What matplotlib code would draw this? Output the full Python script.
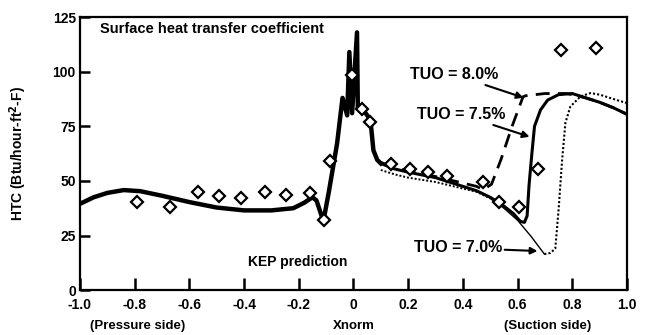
import numpy as np
import matplotlib
matplotlib.use("Agg")
import matplotlib.pyplot as plt

plt.rcParams['font.family'] = ['Liberation Sans', 'DejaVu Sans']
plt.rcParams['font.weight'] = 'bold'

# measured HTC (diamonds)
x_exp = [-0.79, -0.67, -0.57, -0.49, -0.41, -0.325, -0.245, -0.16, -0.108, -0.084,
         -0.006, 0.033, 0.062, 0.139, 0.205, 0.274, 0.343, 0.472, 0.534, 0.607,
         0.673, 0.76, 0.888]
htc_exp = [40.5, 38, 45, 43, 42, 45, 43.5, 44.6, 32, 58.9,
           98.6, 83, 77, 57.8, 55.5, 54, 52.3, 49.5, 40.4, 38,
           55.5, 110, 111]

# KEP prediction, part shared by all three cases (pressure side + leading edge)
x_common = [-1.0, -0.95, -0.9, -0.84, -0.78, -0.7, -0.6, -0.5, -0.4, -0.3,
            -0.22, -0.18, -0.15, -0.135, -0.11, -0.09, -0.06, -0.04, -0.023, -0.015,
            -0.005, 0.013, 0.016, 0.03, 0.062, 0.073, 0.087, 0.1]
htc_common = [39.5, 42.5, 44.5, 45.8, 45.3, 43.2, 40.3, 37.8, 36.5, 36.5,
              37.5, 40, 42.5, 41, 31.5, 45, 67, 88, 80, 109,
              81, 118, 83, 83.5, 78, 64, 59.6, 58]

# suction side, TUO = 7.5 %
x_75 = [0.1, 0.15, 0.2, 0.3, 0.4, 0.45, 0.5, 0.55, 0.585, 0.61, 0.625, 0.635,
        0.642, 0.652, 0.662, 0.684, 0.71, 0.75, 0.8, 0.85, 0.9, 0.95, 1.0]
htc_75 = [58, 55.5, 54, 51.5, 47.5, 45.5, 42.5, 38.5, 35, 31.5, 31, 34,
          48, 62, 75, 82.5, 87, 89.5, 90, 88, 86, 83.5, 80.5]

# suction side, TUO = 8.0 %
x_80 = [0.1, 0.15, 0.2, 0.3, 0.4, 0.45, 0.475, 0.505, 0.54, 0.58, 0.62, 0.63,
        0.7, 0.78, 0.8, 0.85, 0.9, 0.95, 1.0]
htc_80 = [58.5, 56, 54.5, 52, 49, 47.5, 46, 48.5, 60, 75, 88.5, 89,
          90, 90, 89.5, 88, 86, 83.5, 80.5]

# suction side, TUO = 7.0 %
x_70 = [0.1, 0.15, 0.2, 0.3, 0.4, 0.45, 0.5, 0.55, 0.6, 0.65, 0.698, 0.72,
        0.738, 0.75, 0.763, 0.775, 0.793, 0.83, 0.867, 0.9, 0.95, 1.0]
htc_70 = [55, 53, 51.5, 49.5, 46.5, 45, 42, 37.5, 32, 24.5, 16.5, 17,
          19, 36.7, 59.6, 76.6, 84, 88.7, 90.2, 89.5, 87.5, 85.6]

fig = plt.figure(figsize=(6.47, 3.35), dpi=100)
ax = fig.add_axes([0.1236, 0.134, 0.8454, 0.815])

ax.plot(x_common, htc_common, color='k', lw=3.2, solid_joinstyle='round')
ax.plot(x_75, htc_75, color='k', lw=2.2, solid_joinstyle='round')
ax.plot(x_80, htc_80, color='k', lw=2.0, linestyle=(0, (5, 3)))

# 7.0 % curve: dotted, with a thin solid stretch on the way down
x70 = np.array(x_70)
h70 = np.array(htc_70)
down = (x70 >= 0.5) & (x70 <= 0.698)
ax.plot(x70[x70 <= 0.5], h70[x70 <= 0.5], color='k', lw=1.4, linestyle=(0, (1, 1)))
ax.plot(x70[down], h70[down], color='k', lw=1.0)
ax.plot(x70[x70 >= 0.698], h70[x70 >= 0.698], color='k', lw=1.5, linestyle=(0, (1, 1)))

ax.plot(x_exp, htc_exp, linestyle='none', marker='D', ms=6.5, mfc='white',
        mec='k', mew=1.6, zorder=5)

ax.set_xlim(-1.0, 1.0)
ax.set_ylim(0, 125)
ax.set_xticks(np.arange(-1.0, 1.01, 0.2))
ax.set_xticklabels(['-1.0', '-0.8', '-0.6', '-0.4', '-0.2', '0', '0.2', '0.4', '0.6', '0.8', '1.0'])
ax.set_yticks([0, 25, 50, 75, 100, 125])
ax.tick_params(axis='x', direction='in', length=9, width=1.8, labelsize=10, pad=6)
ax.tick_params(axis='y', direction='in', length=7, width=1.8, labelsize=10, pad=3)
for lab in ax.get_xticklabels() + ax.get_yticklabels():
    lab.set_fontweight('bold')
for sp in ax.spines.values():
    sp.set_linewidth(1.6)

ax.set_ylabel('HTC (Btu/hour-ft$^\\mathbf{2}$-F)', fontsize=10, fontweight='bold')
ax.yaxis.set_label_coords(-0.093, 0.5)

ax.text(-0.79, -0.13, '(Pressure side)', transform=ax.get_xaxis_transform(),
        ha='center', va='center', fontsize=9.5, fontweight='bold')
ax.text(0.0, -0.13, 'Xnorm', transform=ax.get_xaxis_transform(),
        ha='center', va='center', fontsize=9.5, fontweight='bold')
ax.text(0.71, -0.13, '(Suction side)', transform=ax.get_xaxis_transform(),
        ha='center', va='center', fontsize=9.5, fontweight='bold')

ax.text(-0.927, 119.5, 'Surface heat transfer coefficient', ha='left', va='center',
        fontsize=10.5, fontweight='bold')
ax.text(-0.384, 12.8, 'KEP prediction', ha='left', va='center',
        fontsize=10, fontweight='bold')

arrow = dict(arrowstyle='-|>', color='k', lw=1.5, mutation_scale=10, shrinkA=0, shrinkB=0)
ax.annotate('TUO = 8.0%', xy=(0.622, 88.1), xytext=(0.208, 98.6), ha='left', va='center',
            fontsize=11.5, fontweight='bold', arrowprops=arrow)
ax.annotate('TUO = 7.5%', xy=(0.644, 70.2), xytext=(0.234, 80.3), ha='left', va='center',
            fontsize=11.5, fontweight='bold', arrowprops=arrow)
ax.annotate('TUO = 7.0%', xy=(0.673, 17.9), xytext=(0.22, 19.3), ha='left', va='center',
            fontsize=11.5, fontweight='bold', arrowprops=arrow)

fig.savefig('out.png', dpi=100)
